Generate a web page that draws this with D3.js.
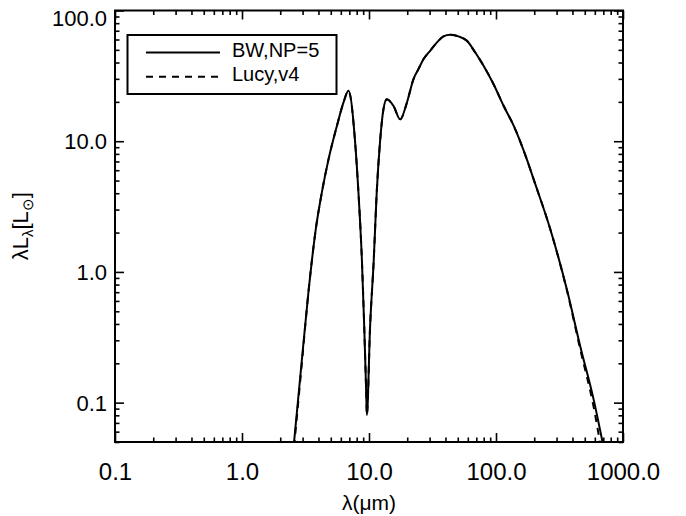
<!DOCTYPE html>
<html>
   <head>
      <script src="https://d3js.org/d3.v7.min.js"></script>
   </head>

   <style>
      body { margin: 0; background: #fff; }
      text { font-family: 'Liberation Sans', Arial, sans-serif; fill: #000; }
   </style>
   <body>
      <script>
         // wavelength in micron, lambda*L_lambda in L_sun
         let wavelength = [2.57, 2.96, 3.33, 3.84, 4.25, 4.80, 5.59, 6.30, 6.89, 7.78, 8.26, 8.79, 9.17, 9.51, 9.62,
            10.2, 10.9, 11.5, 12.2, 13.0, 13.8, 15.6, 17.6, 19.9, 22.4, 24.5, 26.9, 30.3, 34.3, 38.6, 43.6,
            50.7, 59, 68.7, 79.8, 95.7, 115, 138, 175, 198, 268, 362, 461, 588, 690];
         let bwValues = [0.05, 0.212, 0.69, 2.24, 4.04, 7.26, 13.1, 19.8, 24.3, 9.75, 4.04, 1.24, 0.383, 0.118, 0.0805,
            0.383, 1.24, 4.04, 9.75, 17.6, 20.9, 18.6, 14.7, 19.8, 29.9, 35.6, 42.5, 49.2, 57, 63.4, 65.2,
            63.4, 58.6, 47.7, 37.8, 27.3, 18.6, 13.1, 7.26, 5.1, 2.11, 0.73, 0.269, 0.105, 0.05];
         let lucyValues = [0.046, 0.2, 0.69, 2.24, 4.04, 7.26, 13.1, 19.8, 24.3, 9.75, 4.04, 1.24, 0.383, 0.118, 0.0805,
            0.383, 1.24, 4.04, 9.75, 17.6, 20.9, 18.6, 14.7, 19.8, 29.9, 35.6, 42.5, 49.2, 57, 63.4, 65.2,
            63.4, 58.6, 47.7, 37.8, 27.3, 18.6, 13.1, 7.26, 5.1, 2.11, 0.72, 0.255, 0.092, 0.038];

         let seriesNames = ['BW,NP=5', 'Lucy,v4'];
         let xTickValues = [0.1, 1, 10, 100, 1000];
         let xTickLabels = ['0.1', '1.0', '10.0', '100.0', '1000.0'];
         let yTickValues = [0.1, 1, 10, 100];
         let yTickLabels = ['0.1', '1.0', '10.0', '100.0'];

         let [width, height] = [686, 516];
         let [pLeft, pRight, pTop, pBottom] = [115, 623, 10.5, 442];

         let svg = d3.select('body').append('svg').attr('width', width).attr('height', height);

         let x = d3.scaleLog().domain([0.1, 1000]).range([pLeft, pRight]);
         let y = d3.scaleLog().domain([0.05, 100]).range([pBottom, pTop]);

         // minor ticks 2..9 per decade
         let minors = (lo, hi) => {
            let out = [];
            for (let d = lo; d < hi; d *= 10) for (let k = 2; k <= 9; k++) if (d * k >= lo && d * k <= hi) out.push(d * k);
            return out;
         };
         let xMinor = minors(0.1, 1000);
         let yMinor = minors(0.01, 100).filter(v => v >= 0.05);

         let styleAxis = (g) => {
            g.select('.domain').remove();
            g.selectAll('line').attr('stroke', '#000').attr('stroke-width', 1.6);
         };

         // bottom
         svg.append('g').attr('transform', `translate(0,${pBottom})`)
            .call(d3.axisBottom(x).tickValues(xMinor).tickSize(-4.5).tickFormat('')).call(styleAxis);
         let xb = svg.append('g').attr('transform', `translate(0,${pBottom})`)
            .call(d3.axisBottom(x).tickValues(xTickValues).tickSize(-9).tickPadding(21)
               .tickFormat((d, i) => xTickLabels[i])).call(styleAxis);
         xb.selectAll('text').style('font-size', '24px');
         // top
         svg.append('g').attr('transform', `translate(0,${pTop})`)
            .call(d3.axisTop(x).tickValues(xMinor).tickSize(-4.5).tickFormat('')).call(styleAxis);
         svg.append('g').attr('transform', `translate(0,${pTop})`)
            .call(d3.axisTop(x).tickValues(xTickValues).tickSize(-9).tickFormat('')).call(styleAxis);
         // left
         svg.append('g').attr('transform', `translate(${pLeft},0)`)
            .call(d3.axisLeft(y).tickValues(yMinor).tickSize(-4.5).tickFormat('')).call(styleAxis);
         let yl = svg.append('g').attr('transform', `translate(${pLeft},0)`)
            .call(d3.axisLeft(y).tickValues(yTickValues).tickSize(-9).tickPadding(8)
               .tickFormat((d, i) => yTickLabels[i])).call(styleAxis);
         yl.selectAll('text').style('font-size', '22px')
            .attr('dy', d => y(d) - pTop < 10 ? '0.7em' : '0.34em');
         // right
         svg.append('g').attr('transform', `translate(${pRight},0)`)
            .call(d3.axisRight(y).tickValues(yMinor).tickSize(-4.5).tickFormat('')).call(styleAxis);
         svg.append('g').attr('transform', `translate(${pRight},0)`)
            .call(d3.axisRight(y).tickValues(yTickValues).tickSize(-9).tickFormat('')).call(styleAxis);

         // frame
         svg.append('rect').attr('x', pLeft).attr('y', pTop).attr('width', pRight - pLeft).attr('height', pBottom - pTop)
            .attr('fill', 'none').attr('stroke', '#000').attr('stroke-width', 2);

         svg.append('clipPath').attr('id', 'clip').append('rect')
            .attr('x', pLeft).attr('y', pTop).attr('width', pRight - pLeft).attr('height', pBottom - pTop);

         let line = d3.line().curve(d3.curveMonotoneX).x(d => x(d[0])).y(d => y(d[1]));
         let plot = svg.append('g').attr('clip-path', 'url(#clip)');
         plot.append('path').datum(d3.zip(wavelength, lucyValues)).attr('d', line)
            .attr('fill', 'none').attr('stroke', '#000').attr('stroke-width', 2).attr('stroke-dasharray', '7,6');
         plot.append('path').datum(d3.zip(wavelength, bwValues)).attr('d', line)
            .attr('fill', 'none').attr('stroke', '#000').attr('stroke-width', 2).attr('stroke-linejoin', 'round');

         // legend
         let legend = svg.append('g');
         legend.append('rect').attr('x', 127.5).attr('y', 35).attr('width', 209).attr('height', 59)
            .attr('fill', '#fff').attr('stroke', '#000').attr('stroke-width', 2);
         seriesNames.forEach((name, i) => {
            let ly = 52.5 + i * 24.3;
            legend.append('line').attr('x1', 146).attr('x2', 220).attr('y1', ly).attr('y2', ly)
               .attr('stroke', '#000').attr('stroke-width', 2).attr('stroke-dasharray', i ? '7,6' : null);
            legend.append('text').attr('x', 232).attr('y', 57 + i * 24)
               .style('font-size', '20px').text(name);
         });

         // axis titles
         svg.append('text').attr('x', (pLeft + pRight) / 2).attr('y', 510).attr('text-anchor', 'middle')
            .style('font-size', '21px').text('λ(μm)');
         let yt = svg.append('text').attr('transform', `translate(28,${(pTop + pBottom) / 2}) rotate(-90)`)
            .attr('text-anchor', 'middle').style('font-size', '22px');
         yt.append('tspan').text('λL');
         yt.append('tspan').attr('dy', 5).style('font-size', '15px').text('λ');
         yt.append('tspan').attr('dy', -5).text('[L');
         yt.append('tspan').attr('dy', 5).style('font-size', '15px').text('⊙');
         yt.append('tspan').attr('dy', -5).text(']');
      </script>
   </body>
</html>
